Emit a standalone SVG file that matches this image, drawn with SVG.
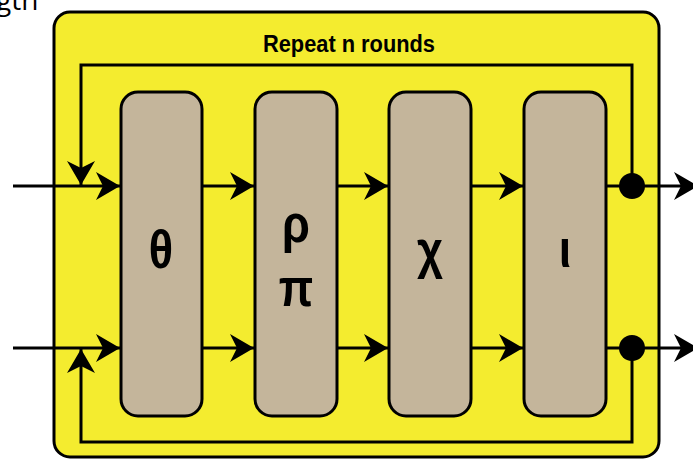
<svg xmlns="http://www.w3.org/2000/svg" width="693" height="462" viewBox="0 0 693 462">
  <style>
    .frame { fill: #F4EC2F; stroke: #000; stroke-width: 3; }
    .step { fill: #C4B59B; stroke: #000; stroke-width: 3; }
    .wire { fill: none; stroke: #000; stroke-width: 3; }
    .arrow { marker-end: url(#tip); }
    .sym { font-family: "Liberation Sans", Arial, sans-serif; font-weight: bold; font-size: 53px; fill: #000; text-anchor: middle; }
    .title { font-family: "Liberation Sans", Arial, sans-serif; font-weight: bold; font-size: 23px; fill: #000; }
    .frag { font-family: "Open Sans", "DejaVu Sans", sans-serif; font-size: 28px; fill: #000; }
  </style>
  <defs>
    <marker id="tip" viewBox="-24 -14 25 28" refX="0" refY="0" markerWidth="25" markerHeight="28" orient="auto" markerUnits="userSpaceOnUse">
      <path d="M0,0 L-24,-14 L-17,0 L-24,14 Z" fill="#000"/>
    </marker>
  </defs>

  <rect width="693" height="462" fill="#fff"/>
  <text class="frag" x="-4" y="10">gth</text>

  <!-- round container -->
  <g id="container">
    <rect class="frame" x="54" y="12" width="605" height="445" rx="16"/>
    <text class="title" x="263" y="52" textLength="172" lengthAdjust="spacingAndGlyphs">Repeat n rounds</text>
  </g>

  <!-- step mappings -->
  <g id="theta">
    <rect class="step" x="121" y="92" width="81" height="324" rx="17"/>
    <text class="sym" transform="translate(161,268) scale(0.85,1)">θ</text>
  </g>
  <g id="rho-pi">
    <rect class="step" x="255" y="92" width="82" height="324" rx="17"/>
    <text class="sym" transform="translate(296,242) scale(0.85,1)">ρ</text>
    <text class="sym" transform="translate(296,306) scale(0.85,1)">π</text>
  </g>
  <g id="chi">
    <rect class="step" x="389" y="92" width="82" height="324" rx="17"/>
    <text class="sym" transform="translate(430,268) scale(0.85,1)">χ</text>
  </g>
  <g id="iota">
    <rect class="step" x="524" y="92" width="82" height="324" rx="17"/>
    <text class="sym" transform="translate(565,267) scale(0.85,1)">ι</text>
  </g>

  <!-- data paths and feedback loops -->
  <g id="connectors">
    <line class="wire arrow" x1="13" y1="186" x2="120" y2="186"/>
    <line class="wire arrow" x1="13" y1="348" x2="120" y2="348"/>
    <line class="wire arrow" x1="202" y1="186" x2="254" y2="186"/>
    <line class="wire arrow" x1="202" y1="348" x2="254" y2="348"/>
    <line class="wire arrow" x1="337" y1="186" x2="388" y2="186"/>
    <line class="wire arrow" x1="337" y1="348" x2="388" y2="348"/>
    <line class="wire arrow" x1="471" y1="186" x2="523" y2="186"/>
    <line class="wire arrow" x1="471" y1="348" x2="523" y2="348"/>
    <line class="wire arrow" x1="606" y1="186" x2="698" y2="186"/>
    <line class="wire arrow" x1="606" y1="348" x2="698" y2="348"/>
    <path class="wire arrow" d="M632,186 V65 H81 V185"/>
    <path class="wire arrow" d="M632,348 V442 H81 V349"/>
    <circle cx="632" cy="186" r="13" fill="#000"/>
    <circle cx="632" cy="348" r="13" fill="#000"/>
  </g>
</svg>
